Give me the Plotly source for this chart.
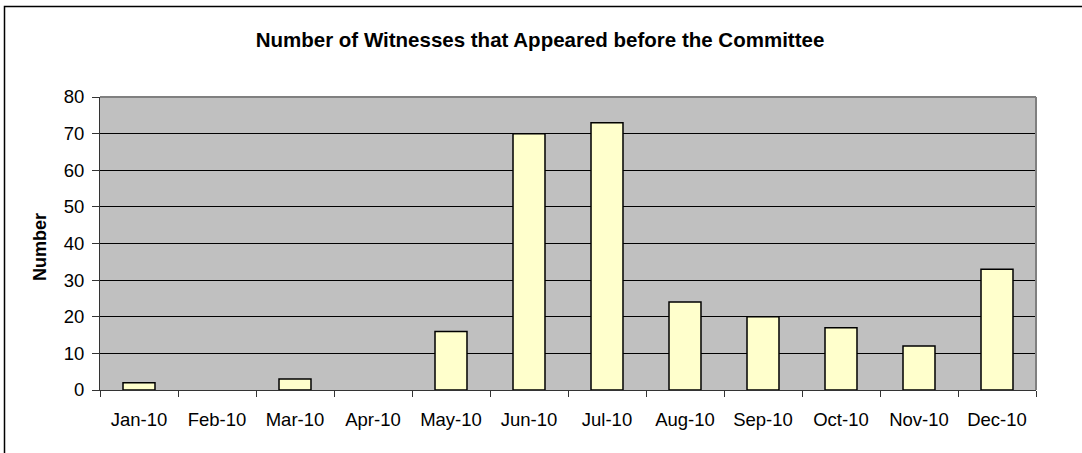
import plotly.graph_objects as go

months = ["Jan-10", "Feb-10", "Mar-10", "Apr-10", "May-10", "Jun-10",
          "Jul-10", "Aug-10", "Sep-10", "Oct-10", "Nov-10", "Dec-10"]
witnesses = [2, 0, 3, 0, 16, 70, 73, 24, 20, 17, 12, 33]
y_ticks = [0, 10, 20, 30, 40, 50, 60, 70, 80]

W, H = 1082, 453
L, R, T, B = 100, 46, 97, 63
FONT = "Liberation Sans, Arial, sans-serif"

fig = go.Figure(go.Bar(
    x=months, y=witnesses,
    marker=dict(color="#FFFFCC",
                line=dict(color="#000000",
                          width=[1.5 if v > 0 else 0 for v in witnesses])),
))

pw = W - L - R
ph = H - T - B
def px_x(p):
    return (p - L) / pw
def px_y(p):
    return (H - B - p) / ph

fig.update_layout(
    width=W, height=H,
    margin=dict(l=L, r=R, t=T, b=B, autoexpand=False),
    paper_bgcolor="white",
    plot_bgcolor="#C0C0C0",
    bargap=0.59,
    showlegend=False,
    font=dict(family=FONT, size=18.5, color="#000"),
    title=dict(text="<b>Number of Witnesses that Appeared before the Committee</b>",
               x=540 / W, xanchor="center", xref="container",
               y=1 - 40 / H, yanchor="middle", yref="container",
               font=dict(size=20.5, family=FONT)),
    xaxis=dict(
        showgrid=False, showline=True, linecolor="#333", linewidth=1,
        ticks="outside", ticklen=6, tickcolor="#333", tickson="boundaries",
        tickfont=dict(size=18.5), fixedrange=True, ticklabelstandoff=13,
    ),
    yaxis=dict(
        range=[0, 80], tickvals=y_ticks, showgrid=True, gridcolor="#000", gridwidth=1,
        showline=True, linecolor="#333", linewidth=1,
        ticks="outside", ticklen=7, tickcolor="#333",
        tickfont=dict(size=18.5), zeroline=False, fixedrange=True,
        ticklabelstandoff=4,
    ),
    annotations=[
        dict(text="<b>Number</b>", xref="paper", yref="paper",
             x=px_x(40), y=px_y(247), xanchor="center", yanchor="middle",
             textangle=-90, showarrow=False, font=dict(size=18, family=FONT)),
    ],
    shapes=[
        dict(type="rect", xref="paper", yref="paper",
             x0=px_x(4.5), x1=px_x(1090), y0=px_y(6.5), y1=px_y(460),
             line=dict(color="#000", width=1.5), fillcolor="rgba(0,0,0,0)", layer="above"),
        dict(type="line", xref="paper", yref="paper",
             x0=0, x1=1, y0=1, y1=1, line=dict(color="#808080", width=2)),
        dict(type="line", xref="paper", yref="paper",
             x0=1, x1=1, y0=0, y1=1, line=dict(color="#808080", width=2)),
    ],
)

fig.write_html("out.html",
               config={"displayModeBar": False, "staticPlot": True},
               post_script="document.body.style.margin='0';document.body.style.overflow='hidden';")
